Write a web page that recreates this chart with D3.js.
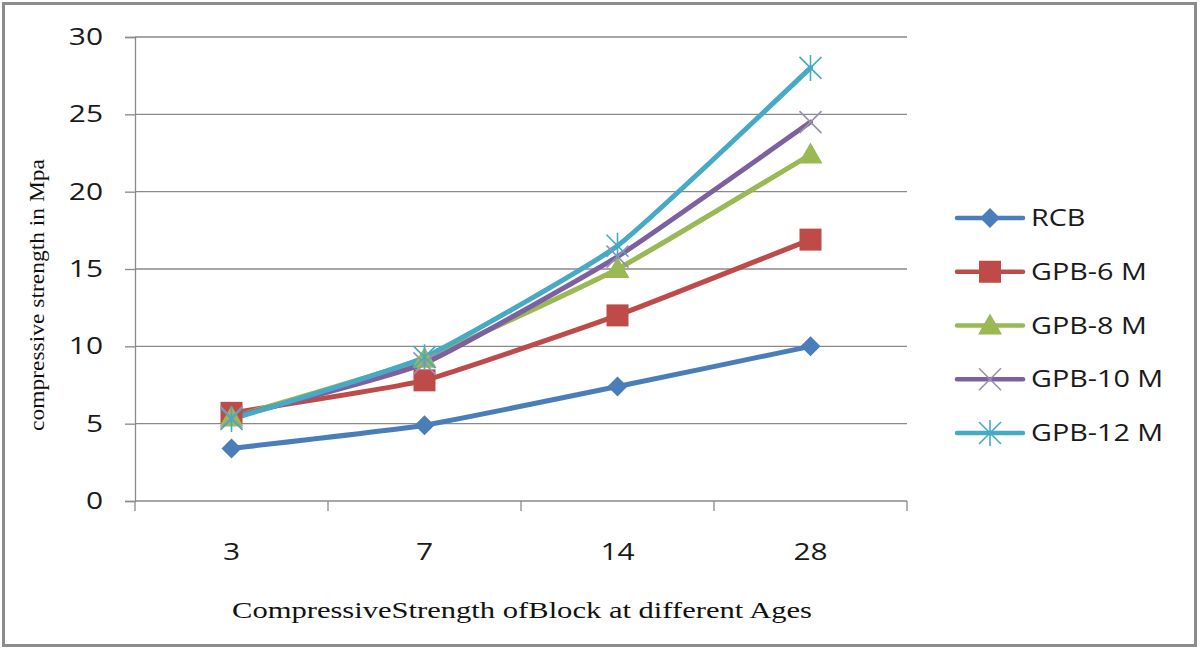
<!DOCTYPE html>
<html>
<head>
<meta charset="utf-8">
<script src="https://cdn.jsdelivr.net/npm/d3@7"></script>
<style>
  html, body { margin: 0; padding: 0; background: #fff; }
  svg { display: block; }
</style>
</head>
<body>
<div id="chart"></div>
<script>
// ── DONNÉES ───────────────────────────────────────────────────────────────
const ages = ['3', '7', '14', '28'];
const seriesNames = ['RCB', 'GPB-6 M', 'GPB-8 M', 'GPB-10 M', 'GPB-12 M'];
const rcb   = [3.4, 4.9, 7.4, 10.0];
const gpb6  = [5.7, 7.8, 12.0, 16.9];
const gpb8  = [5.4, 9.2, 15.0, 22.4];
const gpb10 = [5.4, 8.9, 15.8, 24.5];
const gpb12 = [5.3, 9.3, 16.5, 28.0];
const yTicks = [0, 5, 10, 15, 20, 25, 30];

const W = 1200, H = 650;
const plot = { left: 135, right: 907, top: 37, bottom: 501 };
const SANS = '"Open Sans", sans-serif';
const SERIF = '"Liberation Serif", "DejaVu Serif", serif';

const svg = d3.select('#chart').append('svg').attr('width', W).attr('height', H);

// étire le texte horizontalement (le modèle est un peu élargi)
function stretch(sel, k) {
  sel.each(function() {
    const w = this.getComputedTextLength();
    d3.select(this).attr('textLength', w * k).attr('lengthAdjust', 'spacingAndGlyphs');
  });
}

// Cadre
svg.append('rect').attr('x', 3.5).attr('y', 3.5).attr('width', W - 8).attr('height', H - 8)
  .attr('fill', '#fff').attr('stroke', '#8c8c8c').attr('stroke-width', 3);

const x = d3.scaleBand().domain(ages).range([plot.left, plot.right]);
const y = d3.scaleLinear().domain([0, 30]).range([plot.bottom, plot.top]);

// Grille horizontale
svg.append('g').selectAll('line').data(yTicks.filter(t => t > 0)).enter().append('line')
  .attr('x1', plot.left).attr('x2', plot.right)
  .attr('y1', d => y(d)).attr('y2', d => y(d))
  .attr('stroke', '#8a8a8a').attr('stroke-width', 1.3);

// Axe Y
const yAxis = svg.append('g').attr('transform', `translate(${plot.left},0)`)
  .call(d3.axisLeft(y).tickValues(yTicks).tickSize(10).tickPadding(22));
yAxis.select('.domain').attr('stroke', '#8a8a8a').attr('stroke-width', 1.3);
yAxis.selectAll('.tick line').attr('stroke', '#8a8a8a').attr('stroke-width', 1.3);
yAxis.selectAll('.tick text').attr('font-family', SANS)
  .attr('font-size', '23px').attr('fill', '#1a1a1a').call(stretch, 1.3);

// Axe X (catégories, ticks entre les catégories)
svg.append('line').attr('x1', plot.left).attr('x2', plot.right)
  .attr('y1', plot.bottom).attr('y2', plot.bottom)
  .attr('stroke', '#8a8a8a').attr('stroke-width', 1.3);
const bounds = ages.map(a => x(a)).concat([x(ages[ages.length - 1]) + x.bandwidth()]);
svg.append('g').selectAll('line').data(bounds).enter().append('line')
  .attr('x1', d => d).attr('x2', d => d)
  .attr('y1', plot.bottom).attr('y2', plot.bottom + 10)
  .attr('stroke', '#8a8a8a').attr('stroke-width', 1.3);
svg.append('g').selectAll('text').data(ages).enter().append('text')
  .attr('x', d => x(d) + x.bandwidth() / 2).attr('y', 560)
  .attr('text-anchor', 'middle')
  .attr('font-family', SANS).attr('font-size', '23px')
  .attr('fill', '#1a1a1a').text(d => d).call(stretch, 1.3);

// Titres des axes
svg.append('text').attr('x', 522).attr('y', 618).attr('text-anchor', 'middle')
  .attr('font-family', SERIF).attr('font-size', '23px')
  .attr('textLength', 580).attr('lengthAdjust', 'spacingAndGlyphs')
  .attr('fill', '#111').text('CompressiveStrength ofBlock at different Ages');

svg.append('text').attr('transform', 'translate(44,295) rotate(-90)')
  .attr('text-anchor', 'middle')
  .attr('font-family', SERIF).attr('font-size', '22px')
  .attr('textLength', 272).attr('lengthAdjust', 'spacingAndGlyphs')
  .attr('fill', '#111').text('compressive  strength  in  Mpa');

// ── SÉRIES ────────────────────────────────────────────────────────────────
const colors = ['#4a7ebb', '#be4b48', '#98b954', '#7d60a0', '#46aac5'];
const values = [rcb, gpb6, gpb8, gpb10, gpb12];
const markerKinds = ['diamond', 'square', 'triangle', 'x', 'star'];

function drawMarker(g, kind, color) {
  if (kind === 'diamond') {
    g.append('path').attr('d', 'M0,-10L10,0L0,10L-10,0Z').attr('fill', color);
  } else if (kind === 'square') {
    g.append('rect').attr('x', -11).attr('y', -11).attr('width', 22).attr('height', 22).attr('fill', color);
  } else if (kind === 'triangle') {
    g.append('path').attr('d', 'M0,-12L12,9L-12,9Z').attr('fill', color);
  } else if (kind === 'x') {
    g.append('path').attr('d', 'M-11,-11L11,11M-11,11L11,-11')
      .attr('stroke', '#9a8fb0').attr('stroke-width', 1.6).attr('fill', 'none');
  } else {
    g.append('path').attr('d', 'M-11,-11L11,11M-11,11L11,-11M0,-13L0,13')
      .attr('stroke', color).attr('stroke-width', 1.6).attr('fill', 'none');
  }
}

const line = d3.line()
  .x((d, i) => x(ages[i]) + x.bandwidth() / 2)
  .y(d => y(d))
  .curve(d3.curveCardinal.tension(0.6));

values.forEach((vals, s) => {
  svg.append('path').datum(vals).attr('d', line)
    .attr('fill', 'none').attr('stroke', colors[s]).attr('stroke-width', 5)
    .attr('stroke-linejoin', 'round').attr('stroke-linecap', 'round');
});
values.forEach((vals, s) => {
  vals.forEach((v, i) => {
    const g = svg.append('g').attr('transform', `translate(${x(ages[i]) + x.bandwidth() / 2},${y(v)})`);
    drawMarker(g, markerKinds[s], colors[s]);
  });
});

// ── LÉGENDE ───────────────────────────────────────────────────────────────
const legendY = d3.scalePoint().domain(seriesNames).range([218, 433]);
seriesNames.forEach((name, s) => {
  const ly = legendY(name);
  svg.append('line').attr('x1', 957).attr('x2', 1023).attr('y1', ly).attr('y2', ly)
    .attr('stroke', colors[s]).attr('stroke-width', 4.5).attr('stroke-linecap', 'round');
  drawMarker(svg.append('g').attr('transform', `translate(990,${ly})`), markerKinds[s], colors[s]);
  svg.append('text').attr('x', 1031).attr('y', ly + 8)
    .attr('font-family', SANS).attr('font-size', '23px')
    .attr('fill', '#1a1a1a').text(name).call(stretch, 1.25);
});
</script>
</body>
</html>
